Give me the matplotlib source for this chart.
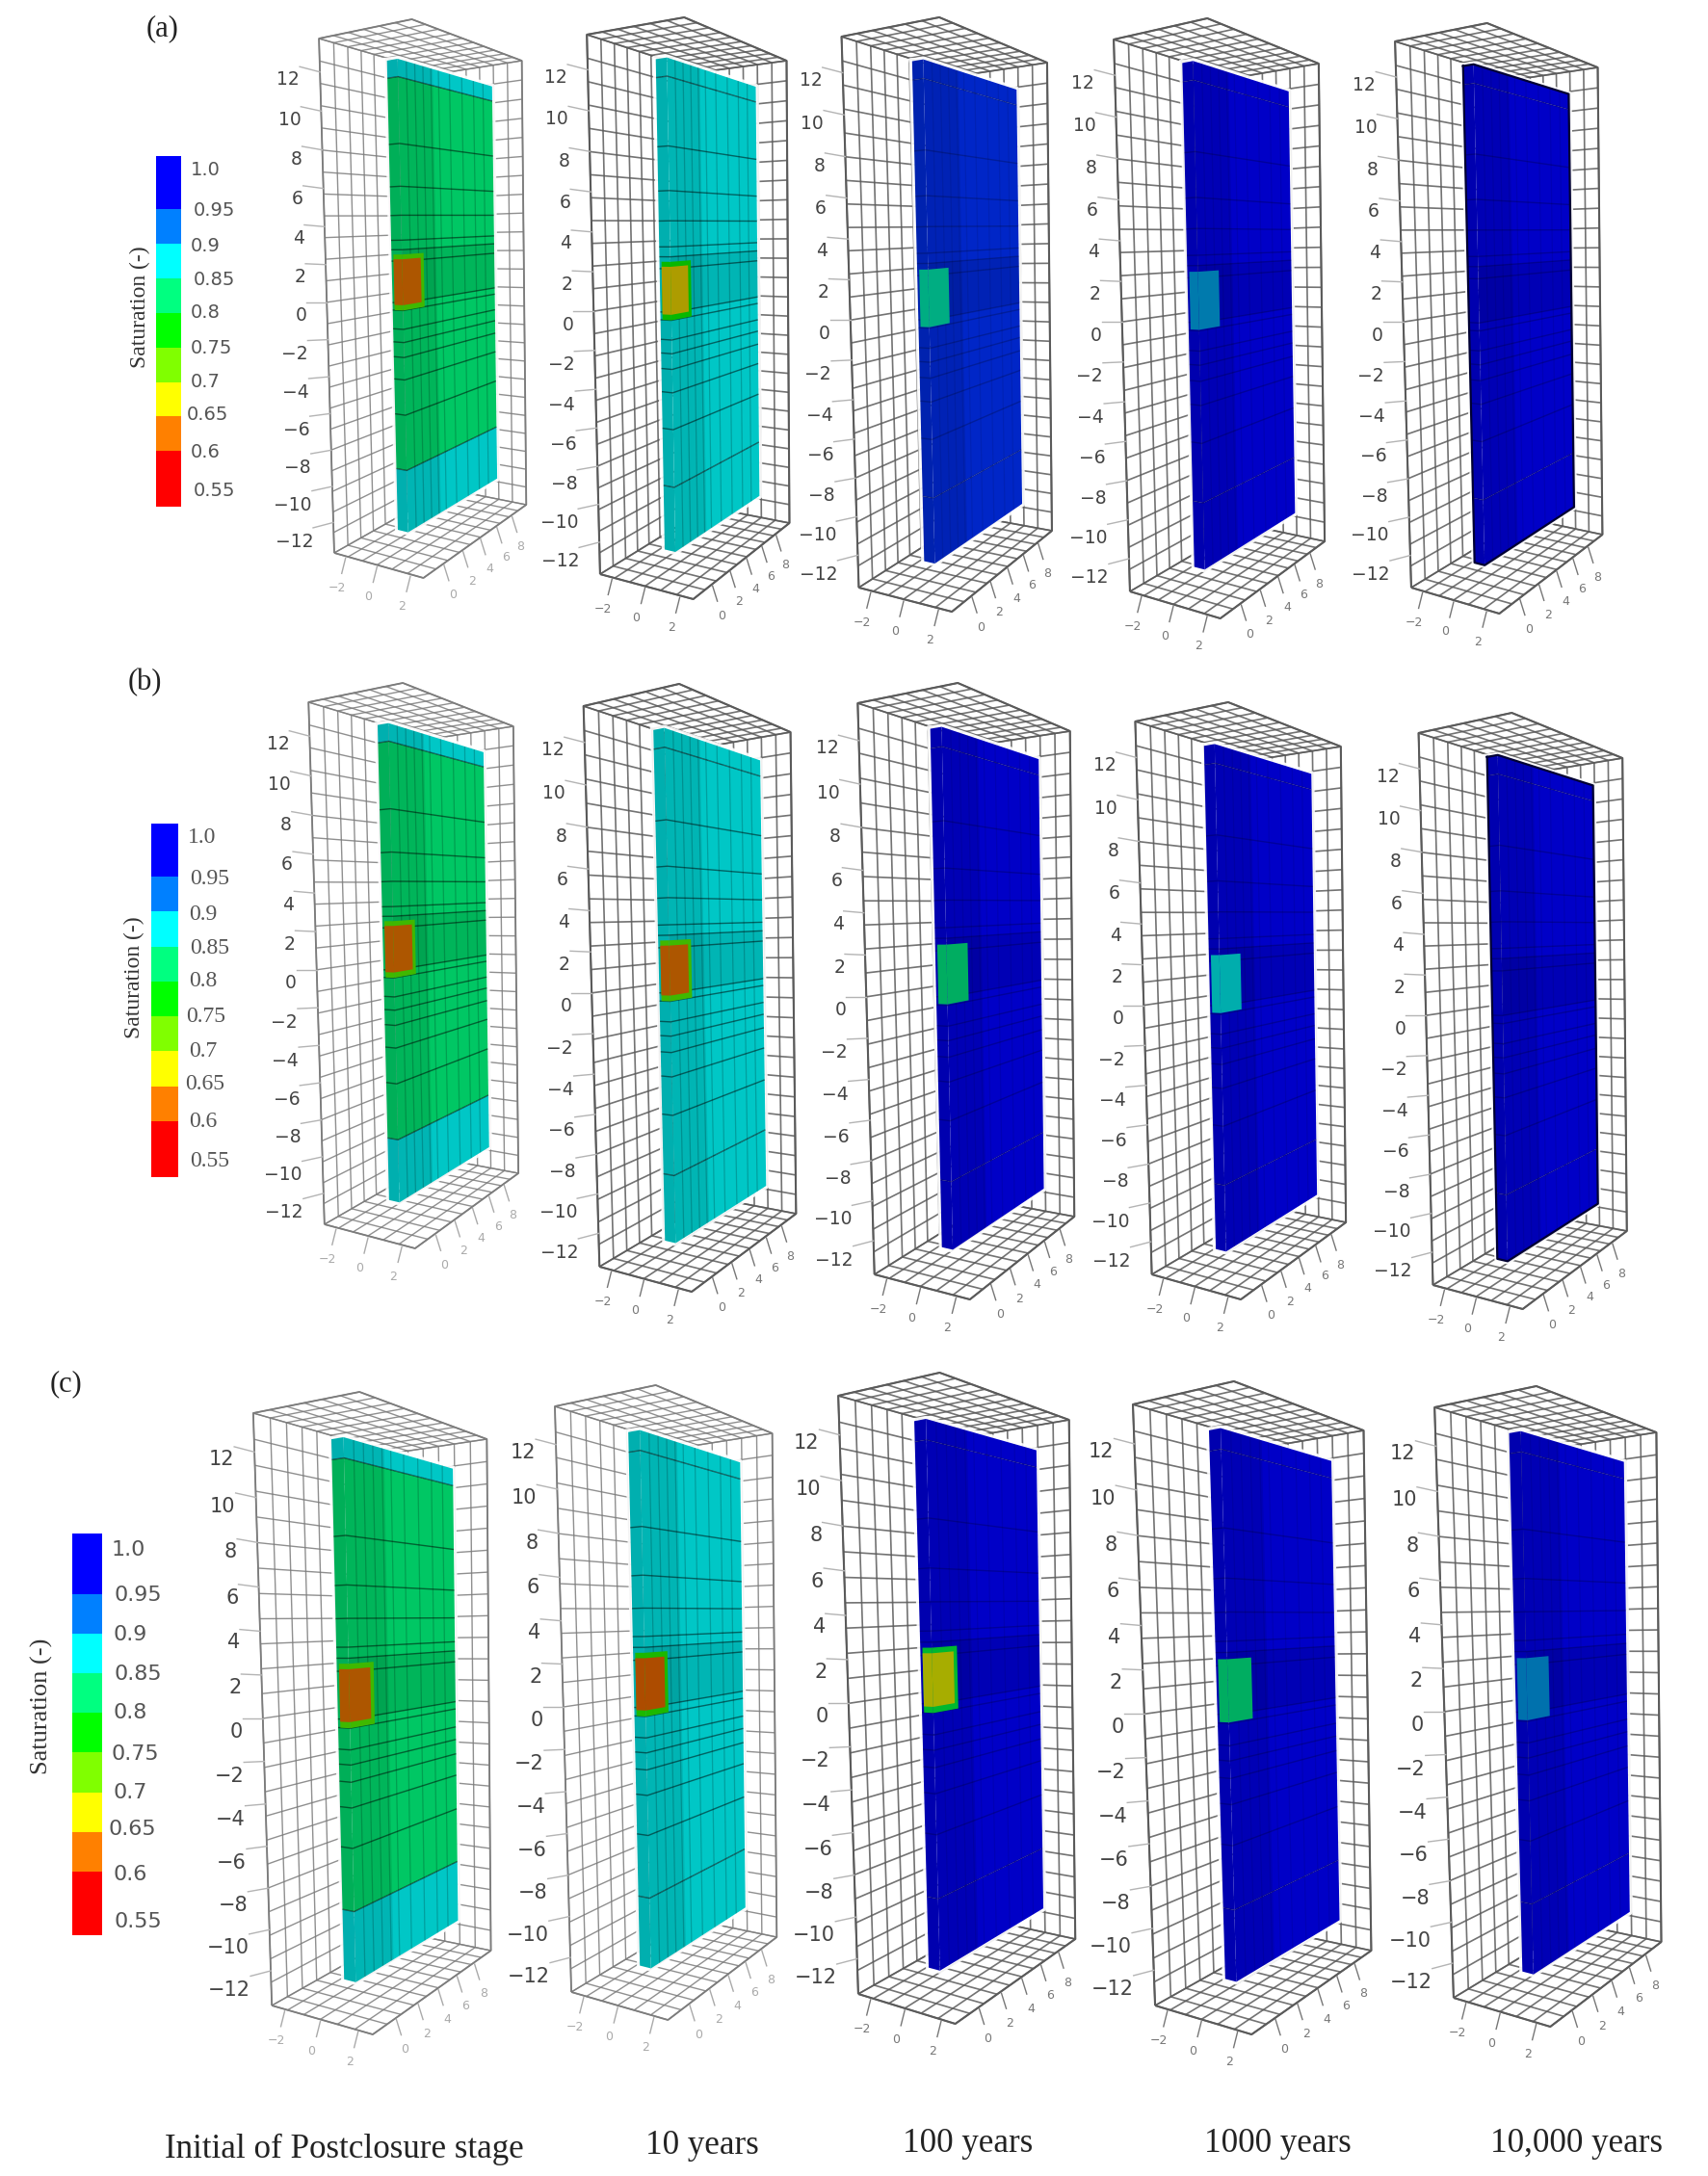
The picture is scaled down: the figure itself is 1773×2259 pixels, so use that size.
"""
Saturation snapshots of the repository section (3 cases x 5 times)
"""
import numpy as np
import matplotlib
matplotlib.use('Agg')
import matplotlib.pyplot as plt
from matplotlib.collections import LineCollection, PolyCollection
from matplotlib.colors import BoundaryNorm, LinearSegmentedColormap, ListedColormap

W, H = 1774, 2259

# ================= data =================
Z_TICKS = [12, 10, 8, 6, 4, 2, 0, -2, -4, -6, -8, -10, -12]
X_TICKS = [-2, 0, 2]
Y_TICKS = [0, 2, 4, 6, 8]

COLORBAR_LEVELS = [1.0, 0.95, 0.9, 0.85, 0.8, 0.75, 0.7, 0.65, 0.6, 0.55]
COLORBAR_LABELS = ['1.0', '0.95', '0.9', '0.85', '0.8', '0.75', '0.7', '0.65', '0.6', '0.55']
COLORBAR_COLORS = ['#ff0000', '#ff8000', '#ffff00', '#80ff00', '#00ff00',
                   '#00ff80', '#00ffff', '#0080ff', '#0000ff']
TIME_LABELS = ['Initial of Postclosure stage', '10 years', '100 years', '1000 years', '10,000 years']
ROW_LABELS = ['(a)', '(b)', '(c)']

# saturation, row by row
SAT_TOP = [0.875, 0.875, 0.955, 0.985, 1.0,
           0.875, 0.875, 0.985, 0.985, 1.0,
           0.875, 0.875, 0.975, 0.985, 0.985]
SAT_MID = [0.825, 0.875, 0.955, 0.985, 1.0,
           0.825, 0.875, 0.985, 0.985, 1.0,
           0.825, 0.875, 0.975, 0.985, 0.985]
SAT_BOT = [0.875, 0.875, 0.955, 0.985, 1.0,
           0.875, 0.875, 0.985, 0.985, 1.0,
           0.875, 0.875, 0.975, 0.985, 0.985]
SAT_BLOCK = [0.625, 0.665, 0.85, 0.905, None,
             0.625, 0.625, 0.83, 0.875, None,
             0.625, 0.62, 0.68, 0.83, 0.91]
SAT_RIM = [0.74, 0.77, None, None, None,
           0.74, 0.74, None, None, None,
           0.74, 0.76, 0.80, None, None]

# mesh layers of the section
MESH_Z = [11.6, 8.2, 6.0, 4.5, 3.2, 2.7, 2.1, -0.1, -0.5, -1.5, -2.2, -3.0, -4.2, -6.1, -9.1]
MESH_Y = [0.8, 1.6, 2.4, 3.2, 4.0, 5.2, 6.6, 8.0, 9.2]

# ================= layout =================
# box corners in pixels: left-top, near-top, right-top, right-bottom, near-bottom, left-bottom
CORNERS = [
    [(330, 40), (427, 20), (543, 63), (545, 524), (440, 600), (348, 574)],
    [(607, 36), (712, 18), (817, 63), (819, 543), (718, 622), (625, 596)],
    [(873, 38), (973, 18), (1089, 65), (1090, 551), (990, 635), (892, 610)],
    [(1155, 41), (1253, 19), (1370, 66), (1374, 562), (1267, 642), (1174, 614)],
    [(1447, 43), (1543, 24), (1660, 70), (1662, 555), (1557, 637), (1466, 610)],
    [(319, 729), (418, 709), (534, 754), (537, 1218), (431, 1296), (338, 1271)],
    [(605, 733), (704, 710), (822, 760), (825, 1260), (719, 1341), (623, 1315)],
    [(889, 730), (994, 709), (1112, 759), (1114, 1263), (1007, 1349), (909, 1323)],
    [(1177, 749), (1275, 729), (1393, 775), (1396, 1269), (1288, 1349), (1197, 1323)],
    [(1471, 761), (1570, 740), (1685, 787), (1688, 1278), (1580, 1359), (1489, 1334)],
    [(262, 1467), (372, 1445), (507, 1494), (508, 2025), (388, 2112), (283, 2082)],
    [(575, 1460), (680, 1438), (803, 1488), (805, 2011), (694, 2097), (594, 2068)],
    [(869, 1449), (975, 1425), (1111, 1474), (1115, 2013), (992, 2101), (892, 2070)],
    [(1175, 1458), (1280, 1434), (1417, 1485), (1422, 2025), (1300, 2112), (1200, 2082)],
    [(1488, 1461), (1594, 1439), (1721, 1487), (1723, 2016), (1610, 2104), (1510, 2074)],
]
LIGHT_GRID = {0, 5, 10, 11}
OUTLINED = {4, 9}

XR = (-2.75, 2.75)
YR = (-2.0, 10.0)
ZR = (-13.7, 13.7)
SLAB_X = (-0.02, 0.62)
SLAB_Y = (0.0, 10.4)
SLAB_Z = (-12.5, 12.5)
N_GRID = (6, 10, 24)
SHADE = 0.78


def fit_camera(corners):
    # 3x4 projection from the six visible corners of the box
    world = [(XR[0], YR[0], ZR[1]), (XR[1], YR[0], ZR[1]), (XR[1], YR[1], ZR[1]),
             (XR[1], YR[1], ZR[0]), (XR[1], YR[0], ZR[0]), (XR[0], YR[0], ZR[0])]
    A, b = [], []
    for (x, y, z), (u, v) in zip(world, corners):
        A.append([x, y, z, 1, 0, 0, 0, 0, -u * x, -u * y, -u * z])
        A.append([0, 0, 0, 0, x, y, z, 1, -v * x, -v * y, -v * z])
        b += [u, v]
    # six corners barely pin the vertical perspective term, hold it down or some panels go skew
    A.append([0] * 10 + [2000.0])
    b.append(0.0)
    sol = np.linalg.lstsq(np.array(A, float), np.array(b, float), rcond=None)[0]
    return np.append(sol, 1.0).reshape(3, 4)


def project(P, pts):
    pts = np.atleast_2d(np.array(pts, float))
    h = np.c_[pts, np.ones(len(pts))] @ P.T
    return h[:, :2] / h[:, 2:3]


def quad(P, x0, x1, y0, y1, z0, z1):
    # rectangle on a plane x=const or y=const
    if x0 == x1:
        pts = [(x0, y0, z0), (x0, y1, z0), (x0, y1, z1), (x0, y0, z1)]
    else:
        pts = [(x0, y0, z0), (x1, y0, z0), (x1, y0, z1), (x0, y0, z1)]
    return project(P, pts)


panel_cmap = LinearSegmentedColormap.from_list(
    'sat', [(0.0, COLORBAR_COLORS[0])] +
    [((0.575 + 0.05 * i - 0.55) / 0.45, c) for i, c in enumerate(COLORBAR_COLORS)] +
    [(1.0, COLORBAR_COLORS[-1])])


def sat_color(s, shade=SHADE):
    rgb = np.array(panel_cmap((s - 0.55) / 0.45)[:3])
    return tuple(rgb * shade)


def draw_box(ax, P, light):
    color = '#7c7c7c' if light else '#5a5a5a'
    lw = 1.0 if light else 1.2
    segs = []
    xs = np.linspace(*XR, N_GRID[0] + 1)
    ys = np.linspace(*YR, N_GRID[1] + 1)
    zs = np.linspace(*ZR, N_GRID[2] + 1)
    # left wall and right wall
    for y in ys:
        segs.append(project(P, [(XR[0], y, ZR[0]), (XR[0], y, ZR[1])]))
    for x in xs:
        segs.append(project(P, [(x, YR[1], ZR[0]), (x, YR[1], ZR[1])]))
    for z in zs:
        segs.append(project(P, [(XR[0], YR[0], z), (XR[0], YR[1], z)]))
        segs.append(project(P, [(XR[0], YR[1], z), (XR[1], YR[1], z)]))
    # top and floor
    for zz in ZR:
        for x in xs:
            segs.append(project(P, [(x, YR[0], zz), (x, YR[1], zz)]))
        for y in ys:
            segs.append(project(P, [(XR[0], y, zz), (XR[1], y, zz)]))
    ax.add_collection(LineCollection(segs, colors=color, linewidths=lw, alpha=0.85, zorder=1))
    # outer edges a bit heavier
    edges = [project(P, [(XR[0], YR[0], ZR[0]), (XR[0], YR[0], ZR[1]), (XR[1], YR[0], ZR[1]), (XR[1], YR[1], ZR[1]),
                         (XR[1], YR[1], ZR[0]), (XR[1], YR[0], ZR[0]), (XR[0], YR[0], ZR[0])])]
    ax.add_collection(LineCollection(edges, colors=color, linewidths=lw + 0.3, zorder=1))


def draw_ticks(ax, P, light, tick_fs):
    for z in Z_TICKS:
        a = project(P, [(XR[0], YR[0], z)])[0]
        ax.plot([a[0], a[0] - 21], [a[1], a[1] - z / 12 * 5.5], color='#b4b4b4', lw=1.0, zorder=1)
        label = str(z).replace('-', '\u2212')
        ax.text(a[0] - 21, a[1] + 14 - z / 12 * 6, label, ha='right', va='center',
                fontsize=tick_fs, color='#444444')
    col = '#aaaaaa' if light else '#777777'
    for x in X_TICKS:
        a = project(P, [(x, YR[0], ZR[0])])[0]
        ax.plot([a[0], a[0] - 4], [a[1] + 2, a[1] + 18], color=col, lw=1.0, zorder=1)
        ax.text(a[0] - 9, a[1] + 33, str(x).replace('-', '\u2212'), ha='center', va='center',
                fontsize=9, color=col)
    for y in Y_TICKS:
        a = project(P, [(XR[1], y, ZR[0])])[0]
        ax.plot([a[0], a[0] + 5], [a[1] + 2, a[1] + 18], color=col, lw=1.0, zorder=1)
        ax.text(a[0] + 9, a[1] + 33, str(y), ha='center', va='center', fontsize=9, color=col)


def draw_slab(ax, P, i):
    x0, x1 = SLAB_X
    y0, y1 = SLAB_Y
    z0, z1 = SLAB_Z
    top, mid, bot = SAT_TOP[i], SAT_MID[i], SAT_BOT[i]
    outline = project(P, [(x0, y0, z1), (x1, y0, z1), (x1, y1, z1), (x1, y1, z0), (x1, y0, z0), (x0, y0, z0), (x0, y0, z1)])
    # pale halo round the section, the wall lines stop short of it
    ax.plot(outline[:, 0], outline[:, 1], color='white', lw=4.5, alpha=0.9, zorder=1.5)

    bands = [(z0, -9.1, bot), (-9.1, 11.6, mid), (11.6, z1, top)]
    polys, cols = [], []
    for za, zb, s in bands:
        # narrow end face first, slightly darker
        polys.append(quad(P, x0, x1, y0, y0, za, zb))
        cols.append(sat_color(s, SHADE * 0.88))
        polys.append(quad(P, x1, x1, y0, y1, za, zb))
        cols.append(sat_color(s))
    ax.add_collection(PolyCollection(polys, facecolors=cols, edgecolors='none', zorder=2))

    # dense mesh makes these parts look darker
    shadow = [quad(P, x1, x1, y0, y1, -0.1, 2.7), quad(P, x1, x1, y0, 3.4, z0, z1)]
    ax.add_collection(PolyCollection(shadow, facecolors='k', edgecolors='none', alpha=0.09, zorder=3))

    is_blue = mid > 0.9
    line_alpha = 0.22 if is_blue else 0.5
    segs = []
    for z in MESH_Z:
        segs.append(project(P, [(x0, y0, z), (x1, y0, z), (x1, y1, z)]))
    ax.add_collection(LineCollection(segs, colors='k', linewidths=1.0, alpha=line_alpha, zorder=4))
    segs = [project(P, [(x1, y, z0), (x1, y, z1)]) for y in MESH_Y]
    ax.add_collection(LineCollection(segs, colors='k', linewidths=0.9, alpha=line_alpha * 0.4, zorder=4))

    # waste block sits on both faces at the near corner
    block, rim = SAT_BLOCK[i], SAT_RIM[i]
    bx = x0 + 0.12
    if block is not None:
        if rim is not None:
            polys = [quad(P, bx, x1, y0, y0, -0.5, 2.45), quad(P, x1, x1, y0, 2.1, -0.5, 2.45)]
            ax.add_collection(PolyCollection(polys, facecolors=[sat_color(rim, 0.72)] * 2,
                                             edgecolors='none', zorder=5))
            polys = [quad(P, bx, x1, y0, y0, -0.22, 2.2), quad(P, x1, x1, y0, 1.8, -0.22, 2.2)]
        else:
            polys = [quad(P, bx, x1, y0, y0, -0.45, 2.4), quad(P, x1, x1, y0, 2.0, -0.45, 2.4)]
        ax.add_collection(PolyCollection(polys, facecolors=[sat_color(block, 0.68)] * 2,
                                         edgecolors='none', zorder=6))

    if i in OUTLINED:
        ax.plot(outline[:, 0], outline[:, 1], color='#000033', lw=1.6, zorder=7)


def draw_colorbar(fig, rect, label_font, label_fs, dx, dy):
    x0, y0, x1, y1 = rect
    cax = fig.add_axes([x0 / W, 1 - y1 / H, (x1 - x0) / W, (y1 - y0) / H])
    edges = [0.52, 0.6, 0.65, 0.7, 0.75, 0.8, 0.85, 0.9, 0.95, 1.026]
    cmap = ListedColormap(COLORBAR_COLORS)
    norm = BoundaryNorm(edges, cmap.N)
    centers = 0.5 * (np.array(edges[:-1]) + np.array(edges[1:]))
    cax.pcolormesh([0, 1], edges, centers[:, None], cmap=cmap, norm=norm)
    cax.set_ylim(edges[0], edges[-1])
    cax.axis('off')
    for v, lab, ox, oy in zip(COLORBAR_LEVELS, COLORBAR_LABELS, dx, dy):
        cax.annotate(lab, xy=(1, v), xycoords=('axes fraction', 'data'), xytext=(7 + ox, oy),
                     textcoords='offset points', va='center', ha='left', fontsize=label_fs,
                     family=label_font, color='#555555')


def main():
    fig = plt.figure(figsize=(W / 100, H / 100), dpi=100, facecolor='white')
    ax = fig.add_axes([0, 0, 1, 1])
    ax.set_xlim(0, W)
    ax.set_ylim(H, 0)
    ax.axis('off')

    for i, corners in enumerate(CORNERS):
        P = fit_camera(corners)
        light = i in LIGHT_GRID
        draw_box(ax, P, light)
        draw_ticks(ax, P, light, 15 if i >= 10 else 13.5)
        draw_slab(ax, P, i)

    label_dy = [3, -1.5, -2, -1.5, 0, -0.5, 0, 1.5, -0.5, -3.5]
    draw_colorbar(fig, (162, 162, 188, 526), 'DejaVu Sans', 14,
                  [0, 2, 0, 2, 0, 0, 0, -3, 0, 2], label_dy)
    draw_colorbar(fig, (157, 855, 185, 1222), 'Liberation Serif', 17,
                  [0, 2, 1, 2, 1, -1, 1, -2, 1, 2], label_dy)
    draw_colorbar(fig, (75, 1592, 106, 2009), 'DejaVu Sans', 16,
                  [0, 2, 1, 2, 1, 0, 1, -2, 1, 2], [3, -1, -1, -1, 0, -1, 0, 2, -2, -8])

    serif = 'Liberation Serif'
    for (x, y, fs) in [(145, 319, 17), (139, 1015, 17), (43, 1771, 19)]:
        ax.text(x, y, 'Saturation (-)', rotation=90, ha='center', va='center', fontsize=fs,
                family=serif, color='#333333')
    for lab, (x, y) in zip(ROW_LABELS, [(169, 30), (150, 709), (69, 1437)]):
        ax.text(x, y, lab, ha='center', va='center', fontsize=22, family=serif, color='#222222')
    for lab, (x, y) in zip(TIME_LABELS, [(357, 2231), (729, 2228), (1005, 2225), (1326, 2225), (1637, 2225)]):
        ax.text(x, y, lab, ha='center', va='center', fontsize=25.2, family=serif, color='#222222')

    fig.savefig('out.png', dpi=100)


if __name__ == "__main__":
    main()
